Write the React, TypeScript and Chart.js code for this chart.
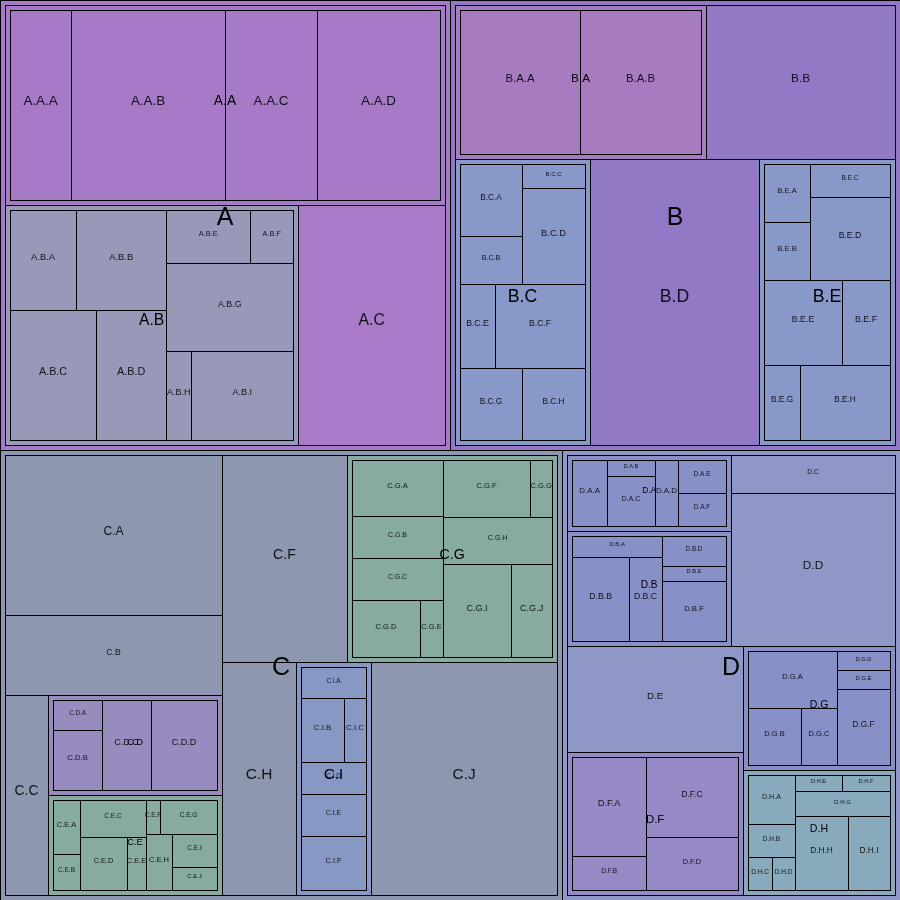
import React, { useEffect, useRef } from 'react';
import { Chart, registerables } from 'chart.js';

Chart.register(...registerables);

// ---------- data (leaf values, grouped by top-level branch) ----------
const A_leaves = ['A.A.A', 'A.A.B', 'A.A.C', 'A.A.D', 'A.B.A', 'A.B.B', 'A.B.C', 'A.B.D', 'A.B.E', 'A.B.F', 'A.B.G', 'A.B.H', 'A.B.I', 'A.C'];
const A_values = [161.2, 407.0, 243.1, 325.1, 92.2, 125.7, 156.2, 127.1, 62.2, 31.8, 156.1, 31.1, 126.8, 454.5];

const B_leaves = ['B.A.A', 'B.A.B', 'B.B', 'B.C.A', 'B.C.B', 'B.C.C', 'B.C.D', 'B.C.E', 'B.C.F', 'B.C.G', 'B.C.H', 'B.D', 'B.E.A', 'B.E.B', 'B.E.C', 'B.E.D', 'B.E.E', 'B.E.F', 'B.E.G', 'B.E.H'];
const B_values = [248.6, 250.6, 375.8, 64.5, 43.0, 21.9, 87.4, 42.5, 109.3, 64.5, 65.6, 624.1, 38.5, 38.5, 38.1, 95.9, 95.8, 58.9, 39.0, 97.5];

const C_leaves = ['C.A', 'C.B', 'C.C', 'C.D.A', 'C.D.B', 'C.D.C', 'C.D.D', 'C.E.A', 'C.E.B', 'C.E.C', 'C.E.D', 'C.E.E', 'C.E.F', 'C.E.G', 'C.E.H', 'C.E.I', 'C.E.J', 'C.F', 'C.G.A', 'C.G.B', 'C.G.C', 'C.G.D', 'C.G.E', 'C.G.F', 'C.G.G', 'C.G.H', 'C.G.I', 'C.G.J', 'C.H', 'C.I.A', 'C.I.B', 'C.I.C', 'C.I.D', 'C.I.E', 'C.I.F', 'C.J'];
const C_values = [446.3, 223.2, 110.6, 22.3, 44.6, 66.8, 90.0, 22.1, 14.7, 37.0, 37.8, 15.3, 7.2, 29.4, 22.1, 22.5, 15.7, 332.6, 72.3, 54.2, 54.2, 55.0, 18.6, 70.3, 18.0, 72.9, 89.7, 54.5, 221.6, 31.2, 42.6, 21.8, 32.2, 42.3, 54.4, 558.0];

const D_leaves = ['D.A.A', 'D.A.B', 'D.A.C', 'D.A.D', 'D.A.E', 'D.A.F', 'D.B.A', 'D.B.B', 'D.B.C', 'D.B.D', 'D.B.E', 'D.B.F', 'D.C', 'D.D', 'D.E', 'D.F.A', 'D.F.B', 'D.F.C', 'D.F.D', 'D.G.A', 'D.G.B', 'D.G.C', 'D.G.D', 'D.G.E', 'D.G.F', 'D.H.A', 'D.H.B', 'D.H.C', 'D.H.D', 'D.H.E', 'D.H.F', 'D.H.G', 'D.H.H', 'D.H.I'];
const D_values = [36.5, 12.3, 38.3, 24.2, 25.3, 25.3, 28.6, 72.3, 42.1, 29.1, 14.6, 58.3, 81.1, 326.5, 242.3, 108.2, 37.2, 109.2, 72.3, 76.8, 45.8, 31.1, 15.3, 15.3, 61.0, 34.9, 23.5, 12.0, 11.5, 11.4, 11.6, 36.0, 59.4, 47.0];

// ---------- styles ----------
const COLORS: Record<string, string> = {
  'A': '#a67ac6', 'A.A': '#a67ac6', 'A.B': '#9898b9', 'A.C': '#a87ac7',
  'B': '#9179c6', 'B.A': '#a67bbf', 'B.B': '#9179c6', 'B.C': '#8898c8', 'B.D': '#9179c6', 'B.E': '#8898c8',
  'C': '#8e97b0', 'C.D': '#988bbd', 'C.E': '#87aba0', 'C.G': '#87aba0', 'C.I': '#8898c4',
  'D': '#8e97c8', 'D.A': '#8890c8', 'D.B': '#8890c8', 'D.C': '#8e97c6', 'D.D': '#8e97c6', 'D.E': '#8e97c6',
  'D.F': '#9689c6', 'D.G': '#8890c8', 'D.H': '#88aabc',
};
const PAD = 5;
const FONT = "'Helvetica Neue', 'Helvetica', 'Arial', sans-serif";

type TNode = { name: string; value: number; children: TNode[]; leaf: boolean };
type Rect = { x: number; y: number; w: number; h: number };
type Placed = { node: TNode; rect: Rect; depth: number };

function buildTree(): TNode {
  const root: TNode = { name: '', value: 0, children: [], leaf: false };
  const sets: [string[], number[]][] = [[A_leaves, A_values], [B_leaves, B_values], [C_leaves, C_values], [D_leaves, D_values]];
  for (const [names, vals] of sets) {
    names.forEach((full, i) => {
      const parts = full.split('.');
      let node = root;
      root.value += vals[i];
      for (let d = 1; d <= parts.length; d++) {
        const nm = parts.slice(0, d).join('.');
        let child = node.children.find((c) => c.name === nm);
        if (!child) {
          child = { name: nm, value: 0, children: [], leaf: d === parts.length };
          node.children.push(child);
        }
        child.value += vals[i];
        node = child;
      }
    });
  }
  return root;
}

function sumOf(nodes: TNode[]) {
  return nodes.reduce((s, n) => s + n.value, 0);
}

// binary split by count, proportional to values, along the longer side (near-ties -> vertical stacking)
function partition(nodes: TNode[], r: Rect, out: Map<TNode, Rect>) {
  if (!nodes.length) return;
  if (nodes.length === 1) {
    out.set(nodes[0], r);
    return;
  }
  const k = Math.floor(nodes.length / 2);
  const a = nodes.slice(0, k);
  const b = nodes.slice(k);
  const sa = sumOf(a);
  const t = sa + sumOf(b);
  if (r.w > r.h + 0.5) {
    const w1 = (r.w * sa) / t;
    partition(a, { x: r.x, y: r.y, w: w1, h: r.h }, out);
    partition(b, { x: r.x + w1, y: r.y, w: r.w - w1, h: r.h }, out);
  } else {
    const h1 = (r.h * sa) / t;
    partition(a, { x: r.x, y: r.y, w: r.w, h: h1 }, out);
    partition(b, { x: r.x, y: r.y + h1, w: r.w, h: r.h - h1 }, out);
  }
}

function layout(node: TNode, r: Rect, depth: number, list: Placed[]) {
  if (depth > 0) list.push({ node, rect: r, depth });
  if (!node.children.length) return;
  const inner = depth === 0 ? r : { x: r.x + PAD, y: r.y + PAD, w: r.w - 2 * PAD, h: r.h - 2 * PAD };
  const m = new Map<TNode, Rect>();
  partition(node.children, inner, m);
  node.children.forEach((c) => layout(c, m.get(c)!, depth + 1, list));
}

function colorFor(name: string) {
  const parts = name.split('.');
  for (let d = Math.min(parts.length, 2); d >= 1; d--) {
    const key = parts.slice(0, d).join('.');
    if (COLORS[key]) return COLORS[key];
  }
  return '#999';
}

function fontSize(h: number) {
  return 5 + h / 22.5;
}

const treemapPlugin = {
  id: 'treemapDraw',
  afterDatasetsDraw(chart: any) {
    const { ctx, scales } = chart;
    const xs = scales.x;
    const ys = scales.y;
    const x0 = xs.getPixelForValue(0);
    const x1 = xs.getPixelForValue(1);
    const y0 = ys.getPixelForValue(0);
    const y1 = ys.getPixelForValue(1);
    const root = buildTree();
    const list: Placed[] = [];
    layout(root, { x: Math.min(x0, x1), y: Math.min(y0, y1), w: Math.abs(x1 - x0), h: Math.abs(y1 - y0) }, 0, list);

    ctx.save();
    ctx.lineWidth = 1;
    ctx.strokeStyle = '#000';
    for (const p of list) {
      const rx0 = Math.round(p.rect.x);
      const ry0 = Math.round(p.rect.y);
      const rx1 = Math.round(p.rect.x + p.rect.w);
      const ry1 = Math.round(p.rect.y + p.rect.h);
      ctx.fillStyle = colorFor(p.node.name);
      ctx.fillRect(rx0, ry0, rx1 - rx0, ry1 - ry0);
      ctx.strokeRect(rx0 + 0.5, ry0 + 0.5, rx1 - rx0, ry1 - ry0);
    }
    ctx.textAlign = 'center';
    ctx.textBaseline = 'alphabetic';
    const leaves = list.filter((p) => p.node.leaf);
    const groups = list.filter((p) => !p.node.leaf);
    for (const p of leaves) {
      ctx.font = `${fontSize(p.rect.h).toFixed(1)}px ${FONT}`;
      ctx.fillStyle = 'rgba(0,0,0,0.88)';
      ctx.fillText(p.node.name, p.rect.x + p.rect.w / 2, p.rect.y + p.rect.h / 2);
    }
    for (const p of groups) {
      ctx.font = `${fontSize(p.rect.h).toFixed(1)}px ${FONT}`;
      ctx.fillStyle = '#000';
      ctx.fillText(p.node.name, p.rect.x + p.rect.w / 2, p.rect.y + p.rect.h / 2);
    }
    ctx.restore();
  },
};

export default function App() {
  const ref = useRef<HTMLCanvasElement>(null);
  useEffect(() => {
    document.body.style.margin = '0';
    const chart = new Chart(ref.current!, {
      type: 'scatter',
      data: { datasets: [{ data: [], pointRadius: 0 }] },
      options: {
        responsive: false,
        animation: false,
        devicePixelRatio: 1,
        layout: { padding: 0 },
        plugins: { legend: { display: false }, tooltip: { enabled: false } },
        scales: {
          x: { type: 'linear', min: 0, max: 1, display: false },
          y: { type: 'linear', min: 0, max: 1, reverse: true, display: false },
        },
      },
      plugins: [treemapPlugin],
    } as any);
    return () => chart.destroy();
  }, []);
  return (
    <div style={{ width: 900, height: 900 }}>
      <canvas ref={ref} width={900} height={900} style={{ display: 'block' }} />
    </div>
  );
}
